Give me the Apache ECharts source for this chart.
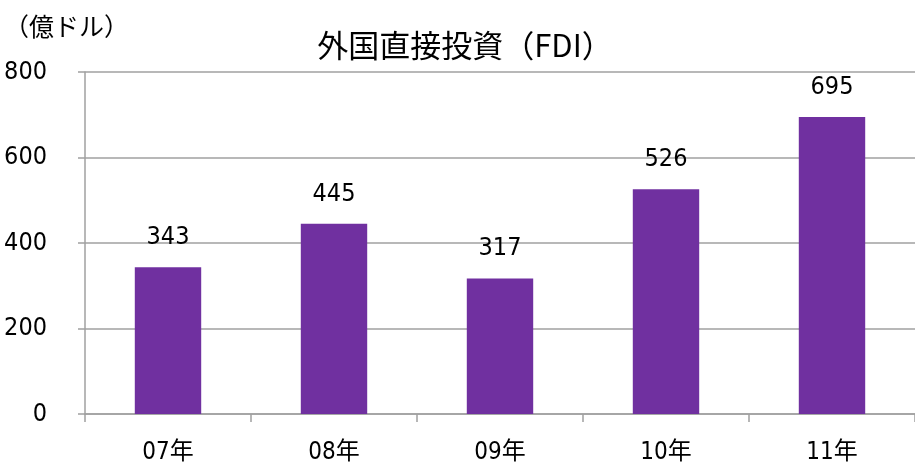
<!DOCTYPE html>
<html>
<head>
<meta charset="utf-8">
<script src="https://cdn.jsdelivr.net/npm/echarts@6/dist/echarts.min.js"></script>
<style>
  html, body { margin: 0; padding: 0; background: #fff; }
  #main { width: 915px; height: 466px; }
</style>
</head>
<body>
<div id="main"></div>
<script>
  // データ
  const years = ["07年", "08年", "09年", "10年", "11年"];
  const fdi = [343, 445, 317, 526, 695];
  const yTicks = [0, 200, 400, 600, 800];

  const font = "'DejaVu Sans Condensed', 'Liberation Sans Narrow', 'Noto Sans CJK JP', sans-serif";
  const cjk = "'Noto Sans CJK JP', sans-serif";
  const gray = "#a0a0a0";

  const chart = echarts.init(document.getElementById("main"));
  chart.setOption({
    animation: false,
    title: [
      {
        text: "外国直接投資（FDI）",
        left: 460,
        top: 25,
        textAlign: "center",
        textStyle: { fontFamily: cjk, fontSize: 31, fontWeight: "normal", color: "#000" }
      },
      {
        text: "（億ドル）",
        left: -1,
        top: 9,
        textStyle: { fontFamily: cjk, fontSize: 25, fontWeight: "normal", color: "#000" }
      }
    ],
    grid: { left: 85, right: 0, top: 72, bottom: 52 },
    xAxis: {
      type: "category",
      data: years,
      axisLine: { lineStyle: { color: gray, width: 1.5 } },
      axisTick: { show: true, length: 8, lineStyle: { color: gray, width: 1.5 } },
      axisLabel: { fontFamily: font, fontSize: 24, color: "#000", margin: 27 }
    },
    yAxis: {
      type: "value",
      min: yTicks[0],
      max: yTicks[yTicks.length - 1],
      interval: 200,
      axisLine: { show: true, lineStyle: { color: gray, width: 1.5 } },
      axisTick: { show: true, length: 7, lineStyle: { color: gray, width: 1.5 } },
      splitLine: { lineStyle: { color: gray, width: 1.5 } },
      axisLabel: { fontFamily: font, fontSize: 25, color: "#000", margin: 38 }
    },
    series: [
      {
        type: "bar",
        data: fdi,
        barWidth: "40%",
        itemStyle: { color: "#7030A0" },
        label: {
          show: true,
          position: "top",
          distance: 17,
          fontFamily: font,
          fontSize: 25,
          color: "#000"
        }
      }
    ]
  });
</script>
</body>
</html>
